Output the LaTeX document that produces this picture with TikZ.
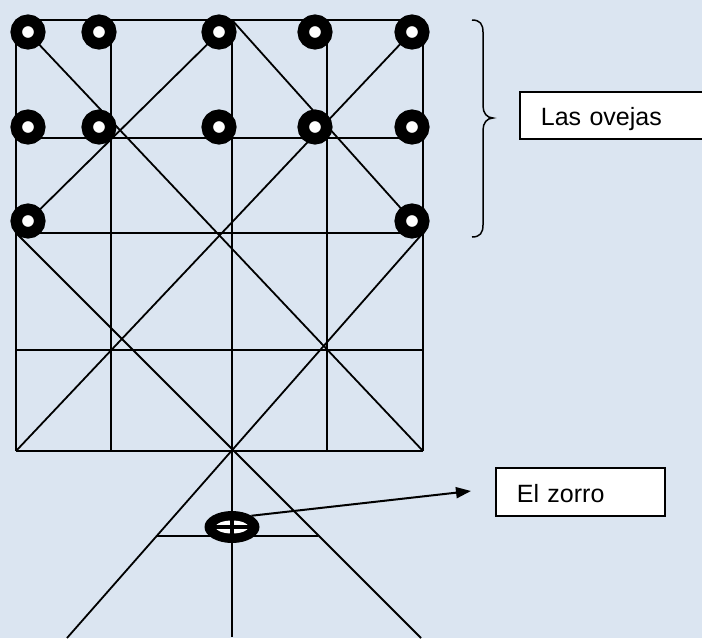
\documentclass[tikz,border=0pt]{standalone}
\usepackage{fontspec}
\setmainfont{Liberation Sans}
\usetikzlibrary{arrows.meta,shapes.geometric}
\definecolor{bg}{HTML}{DBE5F1}
\begin{document}
\begin{tikzpicture}[x=1pt,y=-1pt,
  gridline/.style={line width=1.8pt, draw=black},
  sheep/.style={circle, draw=black, fill=white, line width=11.5pt, minimum size=23.5pt, inner sep=0pt},
  fox/.style={ellipse, fill=black, minimum width=55pt, minimum height=32pt, inner sep=0pt, outer sep=0pt},
  labelbox/.style={rectangle, draw=black, fill=white, line width=1.8pt, inner xsep=21pt, inner ysep=0pt,
    text height=21pt, text depth=0pt, align=left, font=\fontsize{25}{28}\selectfont, anchor=north west}]
\useasboundingbox (0,0) rectangle (702,638);
\fill[bg] (0,0) rectangle (702,638);
\clip (0,0) rectangle (702,638);

% key points of the board
\coordinate (TL) at (16,20);   \coordinate (TR) at (423,20);
\coordinate (BL) at (16,451);  \coordinate (BR) at (423,451);
\coordinate (TM) at (232,20);  \coordinate (BM) at (232,451);
\coordinate (ML) at (16,233);  \coordinate (MR) at (423,233);
\coordinate (EL) at (67,638);  \coordinate (ER) at (421,638);
\coordinate (EM) at (232,637);
\coordinate (HL) at (157,536); \coordinate (HR) at (318,536);

% grid
\foreach \x in {16,111,232,327,423} \draw[gridline] (\x,20) -- (\x,451);
\foreach \y in {20,138,233,350,451} \draw[gridline] (16,\y) -- (423,\y);
% diagonals
\draw[gridline] (TL) -- (BR);
\draw[gridline] (TR) -- (BL);
\draw[gridline] (TM) -- (ML);
\draw[gridline] (TM) -- (MR);
\draw[gridline] (ML) -- (ER);
\draw[gridline] (MR) -- (EL);
\draw[gridline] (BM) -- (EM);
\draw[gridline] (HL) -- (HR);

% sheep
\node[sheep] (s1) at (28,32) {};
\node[sheep] (s2) at (99,32) {};
\node[sheep] (s3) at (219,32) {};
\node[sheep] (s4) at (315,32) {};
\node[sheep] (s5) at (412,32) {};
\node[sheep] (s6) at (28,127) {};
\node[sheep] (s7) at (99,127) {};
\node[sheep] (s8) at (219,127) {};
\node[sheep] (s9) at (315,127) {};
\node[sheep] (s10) at (412,127) {};
\node[sheep] (s11) at (28,221) {};
\node[sheep] (s12) at (412,221) {};

% fox
\node[fox] (fox) at (232,527) {};
\fill[white] (fox.center) ellipse [x radius=16.5pt, y radius=6.5pt];
\draw[line width=4.5pt] (232,519) -- (232,535);
\draw[line width=3.5pt] (213,527) -- (251,527);

% brace
\draw[line width=1.5pt] (472,20) .. controls (480,20) and (483,24) .. (483,32) -- (483,106)
  .. controls (483,113) and (487,118) .. (493,118)
  .. controls (487,118) and (483,123) .. (483,130) -- (483,225)
  .. controls (483,233) and (480,237) .. (472,237);

% labels
\node[labelbox, minimum width=200pt, minimum height=47pt, text width=158pt] (ovejas) at (519,91) {Las ovejas};
\node[labelbox, minimum width=169pt, minimum height=48pt, text width=127pt] (zorro) at (495,467) {El zorro};

% arrow
\coordinate (tip) at (471,491);
\draw[line width=2pt, -{Triangle[length=15pt,width=11pt]}] (fox.30) -- (tip);
\end{tikzpicture}
\end{document}
